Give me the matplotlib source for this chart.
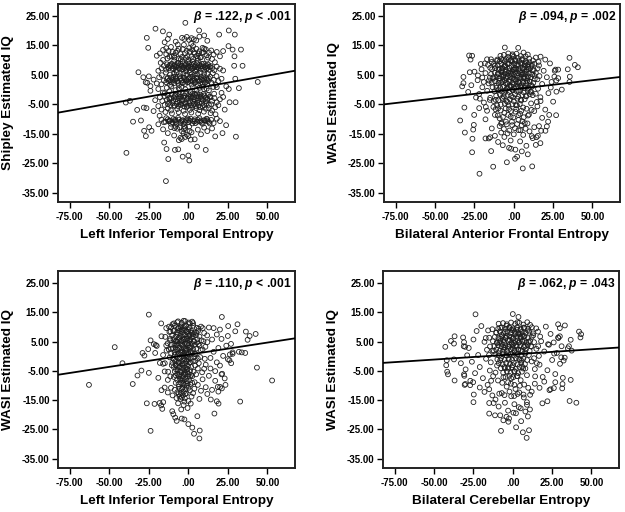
import matplotlib
matplotlib.use("Agg")
import matplotlib.pyplot as plt

plt.rcParams['font.family'] = ['Liberation Sans', 'DejaVu Sans']
plt.rcParams['font.weight'] = 'bold'
plt.rcParams['mathtext.fontset'] = 'custom'
plt.rcParams['mathtext.it'] = 'Liberation Sans:italic:bold'
plt.rcParams['mathtext.rm'] = 'Liberation Sans:bold'

# ---- data ----
x_ticks = [-75, -50, -25, 0, 25, 50]
x_tick_labels = ['-75.00', '-50.00', '-25.00', '.00', '25.00', '50.00']
y_ticks = [25, 15, 5, -5, -15, -25, -35]
y_tick_labels = ['25.00', '15.00', '5.00', '-5.00', '-15.00', '-25.00', '-35.00']

x_titles = ['Left Inferior Temporal Entropy', 'Bilateral Anterior Frontal Entropy',
            'Left Inferior Temporal Entropy', 'Bilateral Cerebellar Entropy']
y_titles = ['Shipley Estimated IQ', 'WASI Estimated IQ', 'WASI Estimated IQ', 'WASI Estimated IQ']
stats = [r'$\beta$ = .122, $p$ < .001', r'$\beta$ = .094, $p$ = .002',
         r'$\beta$ = .110, $p$ < .001', r'$\beta$ = .062, $p$ = .043']

# fitted lines (slope, intercept) as drawn in the figure
fit_slope = [0.095, 0.062, 0.083, 0.035]
fit_intercept = [0.0, 0.1, 0.5, 0.6]

# Shipley vs left inferior temporal entropy
pts1 = [(43.9,2.6),(-39.2,-21.5),(-14.2,-31.1),(-39.6,-4.4),(-37,-3.8),(-32.4,-6.9),(-35,-10.9),(-30,-10.5),
        (-31.6,5.9),(-28.2,-6.1),(-26.5,-6.3),(-28,-14),(-26.9,-15.8),(-24.8,-12.8),(-23.3,-14),(-26.3,17.6),
        (-25.4,14.2),(-20.8,20.7),(-16.1,19.8),(-12.1,18.7),(-1.9,22.7),(6.8,20.1),(10,18.4),(19.5,18.7),
        (25.6,20.1),(29.4,18.7),(33.3,13.6),(34.3,8.1),(32,0.5),(29.9,-4.3),(26.1,-4.3),(30.1,-16),(23.9,-12.1),
        (21.6,-14.8),(11,-20.5),(0,-22.4),(0.6,-24.1),(-3.6,-22.8),(-6.4,-20.3),(-8.5,-20.5),(-12.7,-23.6),
        (-13.8,-20.2),(-15.3,-18),(5.5,-19.4),(28,13.6),(25.4,14.8),(29.2,11.3),(29.7,3.7),(25.6,0.2),(29,8.1),
        (-28.5,4.2),(-27,2.5),(-26,2.3),
        (-4,17.6),(-2.5,17.2),(-1,17.9),(0.5,16.9),(2,17.5),(3.5,17.1),(5,16.7),(-13,17.2),(-15,16.1),(12,16.6),
        (7,18),(-8,16.3),
        (-20,11.5),(-18,12.3),(-16,13.5),(-14,12),(-12,11.2),(-10,12.8),(-9,11.6),(-7,13.2),(-5,12.1),(-3.5,13.8),
        (-2,12.4),(-0.5,11.3),(1,12.9),(2.5,13.6),(4,12.2),(5.5,11.4),(7,13),(8.5,12.5),(10,13.9),(11.5,11.7),
        (13,12.6),(14.5,13.3),(16,11.9),(18,12.8),(20,11.3),(22,13.1),(-11,14.5),(3,14.8),(9,14.2),(-6,10.5),
        (0,10.2),(6,10.6),(15,10.4),(-16,10.1),
        (-17,7.2),(-15.5,8.1),(-14,6.8),(-13,7.7),(-11.5,8.4),(-10,7),(-9,7.9),(-8,6.5),(-7,8.2),(-6,7.4),
        (-5,8.7),(-4,6.9),(-3,7.6),(-2,8.3),(-1,7.1),(0,7.8),(1,6.6),(2,8.5),(3,7.3),(4,8),(5,6.9),(6,7.6),
        (7,8.4),(8,7),(9,7.9),(10,6.7),(11,8.2),(12,7.4),(13,6.8),(14,8),(15,7.3),(16.5,6.6),(18,7.8),(20,7.1),
        (22,6.5),(-19,6.4),(-1.5,6.3),(4.5,6.2),(9.5,8.8),(-6.5,8.9),
        (-22,3.4),(-20,2.1),(-18.5,4.2),(-17,1.8),(-15.5,3.1),(-14,2.5),(-13,4),(-11.5,1.6),(-10,3.3),(-9,2.2),
        (-8,4.4),(-7,2.8),(-6,1.5),(-5,3.7),(-4,2.4),(-3,4.1),(-2,1.9),(-1,3.2),(0,2.6),(1,4.3),(2,1.7),(3,3),
        (4,2.3),(5,3.9),(6,1.6),(7,2.9),(8,4.2),(9,2),(10,3.5),(11,2.6),(12,1.8),(13,3.8),(14.5,2.4),(16,3.3),
        (17.5,1.6),(19,2.9),(21,3.7),(-25,4.5),(-24,1.2),(24,1.1),
        (-19,0.2),(-12,-0.6),(-6,0.4),(1.5,-0.9),(7,0.6),(13,-0.3),(18,0.8),(-15,-1.2),(4,-1.4),(10,0.1),
        (-24,-0.4),(21,-1.1),
        (-18,-2.6),(-16.5,-3.9),(-15,-2.2),(-13.5,-3.4),(-12,-4.4),(-11,-2.9),(-9.5,-3.7),(-8.5,-2.1),(-7,-4.2),
        (-6,-3),(-5,-2.4),(-4,-3.8),(-3,-2.7),(-2,-4.5),(-1,-3.3),(0,-2.2),(1,-3.9),(2,-2.8),(3,-4.1),(4,-3.2),
        (5,-2.3),(6,-3.6),(7,-4.4),(8,-2.6),(9,-3.5),(10,-2),(11,-4),(12,-3.1),(13.5,-2.4),(15,-3.8),(16.5,-2.9),
        (18,-4.3),(20,-3.3),(22,-2.5),(-21,-3.6),
        (-19,-5.6),(-17,-6.8),(-15,-5.2),(-13,-6.4),(-11,-7.1),(-9,-5.5),(-7,-6.6),(-5,-5.1),(-3,-7.2),(-1,-5.9),
        (1,-6.9),(3,-5.4),(5,-6.3),(7,-7),(9,-5.7),(11,-6.5),(13,-5.2),(15,-7.1),(17,-6),(19,-5.3),(23,-6.8),
        (-22,-7.3),
        (-17,-10.2),(-15.5,-11.1),(-14,-9.7),(-12.5,-10.8),(-11,-11.6),(-9.5,-10),(-8,-10.9),(-6.5,-9.6),
        (-5,-11.3),(-3.5,-10.4),(-2,-11),(-0.5,-9.8),(1,-10.6),(2.5,-11.5),(4,-10.1),(5.5,-10.9),(7,-9.7),
        (8.5,-11.2),(10,-10.4),(11.5,-9.9),(13,-11),(14.5,-10.3),(16,-11.4),(18,-9.9),(20,-10.7),(-19,-11.8),
        (-16,-13.5),(-13,-14.8),(-11,-12.8),(-9,-15.6),(-7,-13.3),(-5,-16.4),(-4,-14.2),(-2,-13),(0,-15.8),
        (2,-14.5),(4,-16.9),(6,-13.6),(8,-15.2),(10,-12.9),(12,-14.1),(15,-13.2),(17,-15.9),(-6,-17.2),(-8,-12.6)]
pts1_core = [(-13.5,8.6),(-12.5,7.3),(-11,7.9),(-10.5,8.8),(-9.5,7.2),(-8.5,8.5),(-7.5,7.6),(-6.8,9.1),
             (-5.5,7.1),(-4.5,8.1),(-3.5,8.9),(-2.5,7.3),(-1.5,8.6),(-0.5,7.5),(0.5,8.9),(1.5,7.7),(2.5,7.1),
             (3.5,8.7),(4.5,7.8),(5.5,8.9),(6.5,7.2),(7.5,7.9),(8.5,8.7),(10.5,7.6),(11.5,7.1),(12.5,8.5),
             (13.5,7.7),(-0.2,9.4),(2.8,9.5),(-3.8,9.6),(6,9.8),(-9,9.7),
             (-13.5,3.6),(-12.5,2.9),(-11,4.1),(-10.5,2.4),(-9.5,4.3),(-8.5,3.1),(-7.5,3.9),(-6.5,2.3),(-5.5,4.5),
             (-4.5,3),(-3.5,2.2),(-2.5,4),(-1.5,3.4),(-0.5,2.5),(0.5,3.8),(1.5,2.8),(2.5,4.4),(3.5,3.5),(4.5,2.6),
             (5.5,4.1),(6.5,3.2),(7.5,2.1),(8.5,3.3),(9.5,4.5),(10.5,2.3),(11.5,3.9),(12.5,2.9),(13.8,4.4),
             (-1.2,5),(2.2,5.3),(5.8,5.2),(-5,5.6),(-9,5.4),(10,5.5),
             (-13,-1.9),(-12,-2.8),(-10.5,-1.7),(-9,-2.6),(-8,-1.5),(-6.5,-2.2),(-5.5,-1.6),(-4.5,-2.4),
             (-3.5,-1.4),(-2.5,-2.1),(-1.5,-1.3),(-0.5,-2.7),(0.5,-1.6),(1.5,-2.3),(2.5,-1.5),(3.5,-2.6),
             (4.5,-1.8),(5.5,-1.3),(6.5,-2.4),(7.5,-1.7),(8.5,-2.2),(9.5,-1.5),(11,-2.7),(12.5,-1.8),(14,-2.6),
             (-13,-4.9),(-11.5,-5.3),(-10,-4.6),(-8.5,-5.5),(-7.5,-4.8),(-6.5,-5.6),(-5.5,-4.4),(-4.5,-5.2),
             (-3.5,-4.7),(-2.5,-5.8),(-1.5,-4.9),(-0.5,-5.5),(0.5,-4.6),(1.5,-5.3),(2.5,-6.1),(3.5,-4.8),
             (4.5,-5.6),(5.5,-4.5),(6.5,-5.4),(7.5,-6),(8.5,-4.7),(10,-5.3),(11.5,-4.6),(13,-6.3),(14.5,-5),
             (-14.5,-10.9),(-13,-10.1),(-11.5,-10.6),(-10,-11.1),(-8.5,-10.3),(-7.5,-11.5),(-6,-10.2),
             (-4.5,-10.8),(-3,-11.6),(-1.5,-10.4),(0,-11.1),(1.5,-9.9),(3,-10.7),(4.5,-11.4),(6,-10.3),
             (7.5,-10.9),(9,-11.6),(10.5,-10.6),(12,-10.1),(13.5,-11.5),(-2.5,-12.5),(-5.5,-12.8),(0.5,-12.6),
             (-8.8,-13.1),
             (-12.5,13.1),(-10.5,11.3),(-8,12.5),(-6,13.9),(-4,11.1),(-1,13.2),(0.5,14.1),(2,11.2),(3.5,12.7),
             (5,13.9),(6.5,12.3),(8,11),(9.5,12.6),(11,13.7),(12.5,10.9),(-14,14.1),(-2.8,15.2),(1.8,15.6),
             (-6.7,15.3),
             (-3,-14.8),(-2,-16.1),(-1,-15.3),(0.8,-14.1),(-4.2,-16.8),(1.5,-17),(-2.8,-13.4)]
pts1_more = [(-14.2,5.8),(-11.6,5.1),(-7.3,5.9),(-3.1,5.4),(0.9,5.7),(4.1,5.1),(7.7,5.8),(12.1,5.3),(15.5,5.6),
             (-13.7,0.6),(-10.8,1.1),(-8.1,-0.2),(-4.4,0.9),(-1.9,0.1),(2.7,0.8),(5.2,-0.3),(8.9,1),(11.6,0.3),
             (15.8,0.9),(-14.5,-7.6),(-10.4,-8.1),(-6.1,-7.7),(-2.1,-8.3),(1.9,-7.8),(6.2,-8.2),(9.8,-7.5),
             (14.1,-8),(-13.2,10.6),(-8.7,10.9),(-4.8,10.3),(-1.6,10.8),(2.9,10.4),(7.4,10.9),(11.8,10.2),
             (-17.5,9.1),(16.8,9.3),(-18.2,-8.9),(17.2,-8.4),(-16.8,4.9),(17.8,4.6),(-16.1,-1),(16.3,-1.4),
             (-12,8.1),(-8,7.7),(-4,7.8),(0,8.2),(4,7.6),(8,8),(12,7.9),(-12,3.2),(-8,3.6),(-4,3.3),(0,3.5),
             (4,3.1),(8,3.7),(12,3.4),(-12,-3.2),(-8,-3.3),(-4,-3.4),(0,-3.1),(4,-3.6),(8,-3.2),(12,-3.5),
             (-12,-10.6),(-8,-10.4),(-4,-10.5),(0,-10.2),(4,-10.7),(8,-10.5),(12,-10.7)]

# WASI vs bilateral anterior frontal entropy
pts2 = [(-34.1,-10.5),(-31.1,-14.6),(-31.4,-6.1),(-26.5,-21.3),(-26.3,-16.7),(-25.4,-12),(-25.8,-13.6),
        (-25.2,-8.6),(-21.8,-28.6),(-28.4,11.6),(-26.5,11.5),(-32,4.3),(-32,2.2),(-32.8,1.1),(-27.5,10.2),
        (-18,-16.6),(-15.9,-16.6),(-14.4,-20.9),(-13.1,-26.2),(-4.4,-24.7),(5.7,-26.8),(11.7,-26.1),(8.9,-22),
        (0.8,-23.5),(2.1,-22.8),(5.1,-21),(-1.7,-20.1),(-5.7,14.3),(2.8,14.2),(-0.8,12),(35.4,10.8),(38.8,8.4),
        (40.7,7.6),(34.3,6.9),(35.6,4.4),(35.4,2.6),(30.5,0),(28.2,6.8),(26.5,6.8),(28.2,3.9),(25.8,4.4),
        (27.1,-0.7),(26.9,-8.7),(22.5,-8.6),(21.8,-10.9),(21,-12.5),(20.1,-14),(17.4,-14),(15.3,-15.7),
        (16.9,-18.2),(14.4,-16.2),(11.4,-15.8),(23.5,0.7),
        (-12,8.1),(-10,5.3),(-9,9.6),(-8,2.4),(-7,7.2),(-6,-1.1),(-5,10.4),(-4,4.6),(-3,8.8),(-2,1.3),(-1,6.1),
        (0,11.2),(1,3.5),(2,8.3),(3,-0.4),(4,5.9),(5,10.1),(6,2.2),(7,7.6),(8,-2.3),(9,4.4),(10,9.3),(11,1.5),
        (12,6.6),(-11,0.6),(-9.5,3.8),(-8.5,11.5),(-7.5,-2.8),(-6.5,4.9),(-5.5,7.7),(-4.5,0.2),(-3.5,12.3),
        (-2.5,3.2),(-1.5,9.9),(-0.5,-2.6),(0.5,6.8),(1.5,0.9),(2.5,10.8),(3.5,4.1),(4.5,-3.4),(5.5,7.3),
        (6.5,0.5),(7.5,11.3),(8.5,3),(9.5,6.9),(10.5,-0.8),(11.5,8.5),(-13,4.2),(-11.5,-3.5),(-10.5,10.2),
        (-8,6.3),(-6,3.1),(-4,-4.2),(-2,5.4),(0,1.8),(2,4.8),(4,1.2),(6,5.3),(8,9.1),(10,2.7),(12,-1.9),
        (-1,3.9),(1,7.4),(3,2.6),(5,5.1),(-3,6.3),(-5,4.1),(7,3.9),(9,0.3),(-7,0.9),(-9,7.1),
        (-25,6.1),(-23,3.2),(-22,-1.5),(-21,8.7),(-20,0.8),(-19,-4.4),(-18,5.6),(-17,-7.2),(-16,2.1),(-15,-2.8),
        (-14,9.4),(-13,-5.9),(-12,-8.6),(-10,-6.4),(-9,-9.8),(-8,-11.6),(-6,-7.9),(-5,-10.9),(-3,-6.6),
        (-2,-9.2),(-1,-12.1),(1,-7.5),(2,-5.4),(3,-10.3),(4,-8.2),(6,-6.1),(7,-11.4),(9,-8.8),(11,-4.7),
        (13,-7.3),(14,-1.4),(15,3.5),(16,8.2),(17,-3.9),(18,1.9),(19,6.4),(20,-6.8),(21,4.2),(22,-1.2),(23,8.9),
        (24,2.6),(25,-4.1),(14,10.9),(17,11.2),(20,10.2),(-17,10.3),(-20,4.1),(13,4.7),(15,-5.7),(-15,7.4),
        (-24,-2.7),(-27,1.5),(-28,5.9),(-29,-0.8),(27,3.1),(26,6.4),(-18,-10.1),(-22,-6.3),(18,-9.6),(16,-12.4),
        (-14,-13.2),(-12,-15.7),(-10,-17.8),(-8,-14.6),(-7,-18.9),(-6,-16.1),(-4,-14.9),(-3,-19.8),(-2,-17.3),
        (0,-15.2),(1,-20.4),(3,-13.8),(4,-17.6),(6,-15.4),(8,-19.1),(10,-14.2),(12,-16.5),(13,-12.8),(-9,-12.4),
        (5,-12.1),(-15,-16.2),(14,-18.8)]
pts2_core = [(-6.3,11.8),(-3.7,11.1),(-0.8,11.6),(1.7,12.2),(4.4,11.4),(6.2,12.6),(8.9,11.9),
             (-10.6,9.8),(-8.1,10.4),(-5.8,9.6),(-3.2,10.3),(-1.1,9.5),(0.9,10.1),(3.3,9.7),(5.6,10.6),
             (7.7,9.6),(9.8,10.5),(12.2,9.9),
             (-12.6,8.7),(-10.3,8.2),(-7.9,8.9),(-5.6,8.3),(-3.9,8.6),(-1.6,8.1),(0.3,8.8),(2.8,8.4),(4.9,8.9),
             (6.9,8.2),(9.1,8.6),(11.3,8.1),(13.1,8.8),
             (-13.8,6.9),(-11.9,7.3),(-9.6,6.7),(-7.4,7.1),(-5.1,6.6),(-2.7,7.4),(-0.6,6.8),(1.6,7),(3.8,6.5),
             (6,7.1),(8.2,6.7),(10.6,7.3),(12.8,6.6),(15.1,7.2),
             (-14.4,5.3),(-12.2,5.8),(-10.1,5.5),(-7.8,5.9),(-5.7,5.4),(-3.4,5.7),(-1.3,5.2),(0.8,5.8),(2.9,5.5),
             (5.3,5.9),(7.4,5.3),(9.6,5.6),(11.7,5.2),(14,5.7),
             (-15.2,4.1),(-13.1,3.8),(-11,4.3),(-8.9,3.9),(-6.7,4.4),(-4.6,3.7),(-2.2,4.2),(-0.1,3.6),(2.3,4.1),
             (4.5,3.7),(6.6,4.3),(8.6,3.8),(10.9,4.2),(13.3,3.6),
             (-14.1,2.4),(-12,2.9),(-9.8,2.3),(-7.3,2.7),(-5.2,2.2),(-3.1,2.8),(-0.9,2.4),(1.3,2.9),(3.6,2.3),
             (5.8,2.7),(7.9,2.2),(10.1,2.8),(12.4,2.3),
             (-13.5,0.8),(-11.1,1.3),(-8.7,0.7),(-6.2,1.2),(-4,0.6),(-1.8,1.1),(0.4,0.5),(2.6,1.2),(4.9,0.7),
             (7.2,1.3),(9.5,0.6),(11.8,1.1),
             (-12.3,-0.6),(-9.9,-0.2),(-7.6,-0.7),(-5.3,-0.3),(-3,-0.8),(-0.6,-0.2),(1.9,-0.6),(4.1,-0.3),
             (6.3,-0.9),(8.8,-0.4),(11,-0.7),
             (-11.2,-2.1),(-8.8,-1.7),(-6.4,-2.3),(-3.9,-1.8),(-1.7,-2.2),(0.7,-1.6),(2.9,-2.4),(5.4,-1.9),
             (7.6,-2.2),(10.2,-1.6),
             (-9.7,-3.6),(-7,-3.2),(-4.8,-3.8),(-2.4,-3.3),(0,-3.9),(2.2,-3.1),(4.7,-3.7),(6.9,-3.3),(-12.8,-3.9),
             (-8.3,-5.1),(-5.7,-4.8),(-3.4,-5.4),(-0.9,-5),(1.4,-5.3),(3.8,-4.9),(-10.6,-5.4)]
pts2_more = [(-16.4,8.4),(-15.8,3.1),(-16.9,-0.4),(-15.2,-3.5),(-14.5,10.3),(15.7,9.4),(16.3,4.6),(15.4,0.3),
             (16.9,-2.6),(14.6,-4.2),(-11.6,-6.7),(-8.4,-7.1),(-5.1,-6.4),(-1.8,-7.3),(1.5,-6.6),(4.8,-7.2),
             (8.1,-6.5),(11.3,-6.9),(-10.2,-8.8),(-6.9,-9.3),(-3.6,-8.6),(-0.3,-9.5),(3,-8.7),(6.3,-9.4),
             (9.6,-8.5),(-7.8,-11.2),(-4.5,-11.8),(-1.2,-10.9),(2.1,-11.7),(5.4,-10.8),(8.7,-11.5),
             (-6.3,-13.4),(-2.8,-13.9),(0.7,-13.1),(4.2,-13.8),(7.5,-13.3),
             (-20.5,6.9),(-19.1,2.6),(-21.6,-3.1),(-18.4,8.9),(-22.8,4.8),(-17.8,-5.9),
             (-8,5),(-6,8),(-4,2),(-2,10),(0,5),(2,2),(4,9),(6,4),(8,6),(-7,10),(-1,0),(3,7),(-5,6),(1,9.8),
             (5,1.5),(7,8.7),(-3,1),(-9,3),(9,7.7),(0,6.8)]

# WASI vs left inferior temporal entropy
pts3 = [(-62.9,-9.8),(-46.6,3.1),(-41.7,-2.4),(-35.2,-9.5),(-32.2,-6.6),(-29.7,-4.9),(-29,1.1),(-27.8,0.2),
        (-25,-5.7),(-25,14.2),(-25.4,2.4),(-23.9,5.4),(-26.3,-16.1),(-23.9,-25.5),(-21.4,-16.3),(-18.2,-16),
        (-17.2,-16.8),(-16.5,-18),(-15.9,-15.7),(-21.8,4.1),(-20.6,3.8),(-17.2,11.2),(3.6,-26.5),(7,-28.1),
        (7.2,-25.4),(5.7,-20.5),(2.5,-24.4),(0,-23.2),(-2.5,-21.6),(-4.2,-21.3),(-8.3,-21),(-7.4,-22.1),
        (-9.5,-19.8),(-10.2,-18.8),(14.2,-14.8),(16.5,-19.6),(18,-15.4),(19.1,-16.2),(32.8,-15.5),(53,-8.3),
        (43.4,-3.9),(42.6,7.6),(36.4,8.4),(37.5,5.6),(38.8,6.9),(36,1.1),(31.1,10.9),(25.2,10.3),(21.2,13.4),
        (29.7,8.5),(33.8,1.3),(32,1.5),(28,1.3),(26.3,0.6),(27.1,-2.4),(25,-1),(23.5,-9.8),(21.2,-11),
        (18.6,-10.5),(20.1,-10.5),(21.4,-6),
        (-12,8.3),(-11,2.6),(-10,10.9),(-9,-1.2),(-8,5.1),(-7,11.6),(-6,-3.8),(-5,7.7),(-4,1.4),(-3,12.1),
        (-2,-5.6),(-1,4.3),(0,9.2),(1,-2.1),(2,6.4),(3,11.3),(4,0.7),(5,8),(6,-4.2),(7,3.6),(8,10.1),
        (-11.5,6),(-10.5,-3.1),(-9.5,8.6),(-8.5,0.5),(-7.5,4),(-6.5,9.5),(-5.5,-0.9),(-4.5,5.4),(-3.5,-7.5),
        (-2.5,10.2),(-1.5,2.5),(-0.5,-4.3),(0.5,6.9),(1.5,1.7),(2.5,-6.8),(3.5,5),(4.5,-1.6),(5.5,4.7),
        (6.5,9.4),(7.5,-0.3),(-7,2.2),(-6,6.3),(-5,-5.2),(-4,9.1),(-3,3.1),(-2,7.4),(-1,-8.6),(0,0.9),(1,11.2),
        (2,3.3),(-5,1.2),(-4,-2.7),(-3,-9.4),(-2,0.2),(-1,8.3),(0,-6.1),(-6,-6.9),(-3,5.9),(-1,-1.7),(1,5.2),
        (-8,-9.1),(-7,-12.3),(-6,-10.4),(-5,-14.6),(-4,-11.2),(-3,-16.7),(-2,-12.9),(-1,-10.1),(0,-15.3),
        (1,-11.7),(2,-13.8),(-4.5,-18.2),(-2.5,-15.5),(-6.5,-16.1),(-3.5,-13.4),(-0.5,-17.7),(1.5,-16.2),
        (-7.5,-14.3),
        (-20,3.5),(-18,-2.3),(-17,6.8),(-16,0.4),(-15,-5.2),(-14,9.6),(-13,-8.1),(-15,-10.7),(-13,-12.4),
        (-11,-10.8),(-10,-13.4),(-17,-11.6),(-19,-7.4),(-21,1.1),(-14,3.7),(-16,-2.6),
        (9,2.3),(10,7.9),(11,-2.9),(12,4.8),(13,9.8),(14,-0.6),(15,5.7),(16,1.5),(17,-5.1),(18,7.4),(19,2.8),
        (20,-3.2),(21,5.9),(22,0.1),(23,-7.6),(24,3.6),(25,6.9),(26,-1.4),(27,4.2),(28,0.8),(9,-7.9),(11,-10.6),
        (13,-6.7),(15,-11.5),(17,-8.4),(19,-12.1),(21,-6.2),(8,-11.8),(10,-4.3),(12,-12.9),(14,-4.2),(16,9.6),
        (18,-2.1),(20,9.1),(6,-9.8),(7,-14.6),(4,-8.9),(3,-12.6)]
pts3_core = [(-9.1,11.2),(-6.5,11.9),(-4.2,11.4),(-2.1,12),(0.3,11.5),(2.4,11.8),
             (-10.8,9.9),(-8.6,10.4),(-6.3,9.7),(-4.6,10.2),(-2.9,9.6),(-1.3,10.3),(0.8,9.8),(3.1,10.4),(5.3,9.7),
             (-11.3,8.4),(-8.9,8.8),(-7.2,8.1),(-5.6,8.7),(-3.7,8.2),(-1.9,8.9),(-0.2,8.3),(1.7,8.7),(3.9,8.1),
             (6.1,8.6),
             (-10.2,7.1),(-8.1,6.7),(-6.7,7.4),(-4.9,6.8),(-3.1,7.2),(-1.2,6.6),(0.7,7.3),(2.8,6.8),(4.8,7.2),
             (7,6.7),
             (-11.6,5.4),(-9.4,5.8),(-7.7,5.2),(-5.9,5.7),(-4.1,5.1),(-2.4,5.8),(-0.6,5.3),(1.3,5.7),(3.4,5.2),
             (5.7,5.8),(8.3,5.4),
             (-10.7,3.9),(-8.8,4.3),(-6.9,3.8),(-5.2,4.4),(-3.5,3.7),(-1.8,4.2),(0.1,3.8),(2.2,4.3),(4.2,3.9),
             (6.4,4.1),
             (-12.4,2.3),(-9.9,2.7),(-8,2.2),(-6.2,2.8),(-4.5,2.1),(-2.7,2.7),(-0.9,2.2),(1,2.8),(3,2.4),(5.1,2.6),
             (7.8,2.1),
             (-10.9,0.9),(-8.7,1.3),(-6.8,0.8),(-5,1.4),(-3.2,0.7),(-1.4,1.2),(0.5,0.6),(2.6,1.1),(4.6,0.8),
             (-11.8,-0.4),(-9.6,-0.8),(-7.4,-0.3),(-5.7,-0.7),(-3.9,-0.2),(-2.2,-0.9),(-0.4,-0.4),(1.6,-0.7),
             (3.7,-0.3),(6,-0.8),
             (-10.1,-2.2),(-8.2,-1.7),(-6.3,-2.3),(-4.6,-1.8),(-2.8,-2.4),(-1,-1.6),(0.9,-2.2),(2.9,-1.8),
             (-9.3,-3.7),(-7.4,-3.2),(-5.6,-3.6),(-3.8,-3.1),(-2,-3.8),(-0.2,-3.3),(1.8,-3.7),(4.3,-3.2),
             (-8.6,-5.2),(-6.7,-4.8),(-4.4,-5.5),(-2.6,-4.9),(-0.8,-5.4),(1.2,-4.8),(3.3,-5.3),
             (-7.9,-6.6),(-5.8,-6.2),(-3.9,-6.8),(-2.1,-6.3),(-0.3,-6.9),(1.8,-6.4),
             (-7.1,-8.1),(-5.2,-7.7),(-3.4,-8.3),(-1.6,-7.8),(0.4,-8.2),
             (-6.2,-9.6),(-4.5,-9.2),(-2.4,-9.8),(-0.7,-9.3),(1.3,-9.7),
             (-5.4,-11.1),(-3.7,-10.7),(-1.8,-11.3),(0.1,-10.8),
             (-4.8,-12.6),(-2.9,-12.2),(-1.1,-12.7),(-6.1,-12.9),
             (-4.1,-14.1),(-2.2,-14.4),(-5.6,-13.8)]
pts3_more = [(-14.6,6.6),(-13.8,1.9),(-14.9,-2.4),(-13.1,4.4),(-12.8,-5.3),(-12.2,10.1),(9.6,5.1),(10.4,-0.9),
             (9.1,9.6),(10.8,3.2),(8.7,-5.5),(11.9,7.1),
             (-8,3),(-6,1),(-4,4),(-2,2),(0,4.5),(2,8),(-7,5),(-5,9.8),(-3,0),(-1,6),(1,3),(3,7.5),(-6,-2),(-4,-4),
             (-2,-2.5),(0,-1),(-8,-3),(-7,-6),(-5,-8),(-3,-6),(-1,-4.5),(1,-7),
             (-9.2,-7.1),(-8.6,-11.5),(2.4,-9.1),(3.8,-11.1),(-7.8,-4.5),(4.9,-6.2),(6.6,-2.4),(-11.4,-6.9)]

# WASI vs bilateral cerebellar entropy
pts4 = [(-42.9,3.2),(-42,-1.4),(-42.3,-3.1),(-41.7,-5.3),(-41.2,-6.2),(-39.3,5.2),(-37,6.8),(-37.4,4.3),
        (-37.4,-1.1),(-37,-8.3),(-31,-6.2),(-30.8,-6.7),(-30.2,-9.5),(-30.6,-9.8),(-31.6,6.4),(-31.2,3.4),
        (-30.3,3.2),(-23.7,14.3),(-25,-15.7),(-24.8,-13.1),(-27.1,-9.9),(-25.2,-8.9),(-15,-19.6),(-11.3,-20.2),
        (-15,-16),(-12.2,-16),(-7.5,-25.5),(-2.8,-22.4),(-2.4,-21.3),(2.1,-24.3),(5.3,-22.2),(6.4,-26),
        (8.8,-27.9),(9.6,-20.6),(10.3,-25.3),(10.9,-18.2),(9,-15.7),(0.4,-19.3),(3.8,-17.4),(18.8,-16.1),
        (22,-15.4),(23.3,-11.6),(26.1,-10.9),(31.4,-11),(31.8,-7.4),(31.6,-9.5),(36.1,-15.3),(36.8,-8.1),
        (40.4,-15.9),(42.1,8.4),(43,6.4),(43.4,7.5),(36.8,5.6),(37.4,1.9),(35.7,3.4),(28.8,10.9),(33.1,10.5),
        (29.9,9.6),(28.8,6.4),(29.9,6.8),(30.8,-0.4),(32.3,-1.5),(22.4,4.1),(26.3,0.9),(0,14.4),(3.6,13.4),
        (-15,6.3),(-14,-2.1),(-13,9.2),(-12,1.8),(-11,-5.6),(-10,4.5),(-9,11.1),(-8,-1.4),(-7,7.3),(-6,-7.2),
        (-5,2.9),(-4,10.4),(-3,-3.8),(-2,5.6),(-1,0.7),(0,8.9),(1,-5.1),(2,3.8),(3,11.6),(4,-0.9),(5,6.7),
        (6,-3.6),(7,9.8),(8,1.2),(9,-6.5),(10,4.9),(11,10.7),(12,-1.8),(13,7.1),(14,-4.4),(15,2.5),
        (-14.5,3.3),(-12.5,-6.8),(-10.5,8.1),(-8.5,4.7),(-6.5,1.5),(-4.5,6.2),(-2.5,-1.2),(-0.5,4.1),(1.5,7.5),
        (3.5,2.2),(5.5,-1.5),(7.5,5.3),(9.5,8.8),(11.5,3.4),(13.5,-0.7),
        (-9,1),(-7,4.2),(-5,8.3),(-3,3.3),(-1,6.6),(1,2),(3,5.4),(5,9.1),(7,3.1),(-6,5.5),(-4,0.3),(-2,9.6),
        (0,2.7),(2,7.9),(4,4.6),(6,7.2),(8,-4.2),(-8,9.7),(0,-3.1),(-1,-7.6),(3,-6.8),(-3,-8.9),(1,-9.8),
        (5,-8.2),(-5,-4.1),(-10,-3.2),
        (-28,2.8),(-26,-1.9),(-25,5.7),(-24,-5.8),(-23,8.6),(-22,0.4),(-21,-3.7),(-20,10.3),(-19,-7.5),
        (-18,4.9),(-17,-0.9),(-16,-9.8),(-33,-2.4),(-31,4.8),(-30,-4.5),(-29,0.3),(-27,-8.4),(-21,-10.7),
        (-18,-12.2),(-15,-11.3),(-13,-13.4),
        (16,8.4),(17,-2.9),(18,5.1),(19,-7.1),(20,1.6),(21,10.1),(22,-4.8),(23,3.9),(24,7.6),(25,-1.3),(26,4.7),
        (27,-6.1),(28,1.1),(29,6.2),(30,-2.6),(31,3.4),(33,-0.5),(35,2.7),(17,-10.8),(20,-8.7),(24,-11.3),
        (27,-8.9),(14,-9.4),(12,-12.1),
        (-11,-14.8),(-9,-17.2),(-7,-12.6),(-5,-15.9),(-3,-18.6),(-1,-13.7),(1,-16.4),(3,-12.9),(5,-17.8),
        (7,-14.1),(9,-16.6),(11,-13.2),(-4,-20.7),(-6,-21.9),(2,-19.5),(8,-18.9),(-8,-20.2)]
pts4_core = [(-6.2,11.3),(-3.8,10.9),(-1.1,11.5),(1.5,11),(4.1,11.4),(6.8,10.8),(9.2,11.6),
             (-9.3,9.4),(-7,9.8),(-4.6,9.3),(-2.3,9.9),(0.2,9.5),(2.6,9.8),(4.9,9.3),(7.3,9.7),(9.8,9.4),(12.1,9.9),
             (-10.5,8),(-8.2,8.4),(-5.9,7.8),(-3.5,8.3),(-1.2,7.9),(1.1,8.4),(3.5,7.8),(5.8,8.3),(8.1,7.9),
             (10.4,8.4),(12.8,7.8),
             (-11.4,6.6),(-9.1,6.2),(-6.8,6.7),(-4.4,6.3),(-2.1,6.8),(0.3,6.2),(2.7,6.7),(5,6.3),(7.4,6.8),
             (9.7,6.2),(12,6.6),
             (-12.6,5.1),(-10.2,4.7),(-7.9,5.2),(-5.5,4.8),(-3.1,5.3),(-0.8,4.7),(1.6,5.2),(3.9,4.8),(6.3,5.3),
             (8.6,4.7),(11,5.2),(13.5,4.8),
             (-11.7,3.4),(-9.4,3.8),(-7.1,3.3),(-4.7,3.7),(-2.3,3.2),(0.1,3.8),(2.5,3.3),(4.8,3.7),(7.2,3.2),
             (9.5,3.8),(11.9,3.3),
             (-12.9,1.9),(-10.6,2.3),(-8.3,1.8),(-5.9,2.2),(-3.6,1.7),(-1.2,2.3),(1.2,1.8),(3.6,2.2),(6,1.7),
             (8.3,2.3),(10.7,1.8),
             (-11.1,0.6),(-8.7,0.2),(-6.4,0.7),(-4,0.3),(-1.7,0.8),(0.7,0.2),(3.1,0.7),(5.4,0.3),(7.8,0.8),
             (10.2,0.4),
             (-9.8,-1.1),(-7.5,-0.7),(-5.2,-1.2),(-2.8,-0.8),(-0.4,-1.3),(2,-0.7),(4.4,-1.2),(6.7,-0.8),(9.1,-1.3),
             (-8.9,-2.4),(-6.5,-2.8),(-4.2,-2.3),(-1.8,-2.7),(0.6,-2.2),(3,-2.8),(5.3,-2.3),(7.7,-2.7),
             (-7.6,-4.1),(-5.3,-3.7),(-2.9,-4.2),(-0.5,-3.8),(1.9,-4.3),(4.2,-3.7),(6.6,-4.2),
             (-6.1,-5.6),(-3.8,-5.2),(-1.4,-5.7),(1,-5.3),(3.4,-5.8),(5.8,-5.3),
             (-4.6,-7.1),(-2.2,-6.7),(0.2,-7.2),(2.6,-6.8)]
pts4_more = [(-15.7,8.8),(-16.4,2.2),(-14.6,-4.9),(-17.2,6.2),(-13.8,-8.4),(-15.1,0.4),(14.9,9.5),(16.1,3.4),
             (15.3,-2.4),(17.4,6.7),(14.2,-6.9),(16.6,0.1),
             (-9.4,-8.3),(-6.7,-9.1),(-3.9,-10.4),(-1.2,-9.4),(1.7,-11.2),(4.5,-10.1),(7.2,-9.7),(9.8,-10.8),
             (-8.6,-12.8),(-5.3,-13.3),(-2.1,-12.1),(0.9,-13.6),(4.1,-12.4),(6.8,-13.1),
             (-4,7),(-2,4),(0,6),(2,1),(4,7.5),(6,5),(8,3.5),(-6,3),(-8,6),(-1,9),(1,4.5),(3,9),(5,2),(-3,1),(7,7)]

panels = [pts1 + pts1_core + pts1_more, pts2 + pts2_core + pts2_more,
          pts3 + pts3_core + pts3_more, pts4 + pts4_core + pts4_more]

# axes positions in figure fractions (625 x 512 px)
positions = [[0.0928, 0.6055, 0.3792, 0.3867],
             [0.6144, 0.6055, 0.3776, 0.3867],
             [0.0928, 0.0859, 0.3792, 0.3848],
             [0.6128, 0.0859, 0.3776, 0.3848]]

fig = plt.figure(figsize=(6.25, 5.12), dpi=100)
for i in range(4):
    ax = fig.add_axes(positions[i])
    xs = [p[0] for p in panels[i]]
    ys = [p[1] for p in panels[i]]
    ax.scatter(xs, ys, s=12, facecolors='none', edgecolors='#1e1e1e', linewidths=0.6, zorder=2)
    xlim = (-82.5, 67.5)
    ax.plot(xlim, [fit_slope[i] * v + fit_intercept[i] for v in xlim], color='black', lw=1.3, zorder=3)
    ax.set_xlim(xlim)
    ax.set_ylim(-38.2, 29.1)
    ax.set_xticks(x_ticks)
    ax.set_xticklabels(x_tick_labels)
    ax.set_yticks(y_ticks)
    ax.set_yticklabels(y_tick_labels)
    ax.tick_params(axis='x', labelsize=7, length=4, width=1, pad=3)
    ax.tick_params(axis='y', labelsize=7, length=4, width=1, pad=2)
    for sp in ax.spines.values():
        sp.set_linewidth(1.4)
        sp.set_color('#222222')
    ax.set_xlabel(x_titles[i], fontsize=9.7, fontweight='bold', va='center')
    ax.xaxis.set_label_coords(0.5, -0.167)
    ax.set_ylabel(y_titles[i], fontsize=9.7, fontweight='bold', va='center')
    ax.yaxis.set_label_coords(-0.21, 0.5)
    ax.text(0.985, 0.975, stats[i], transform=ax.transAxes, ha='right', va='top',
            fontsize=8.7, fontweight='bold')

fig.savefig('out.png', dpi=100)
